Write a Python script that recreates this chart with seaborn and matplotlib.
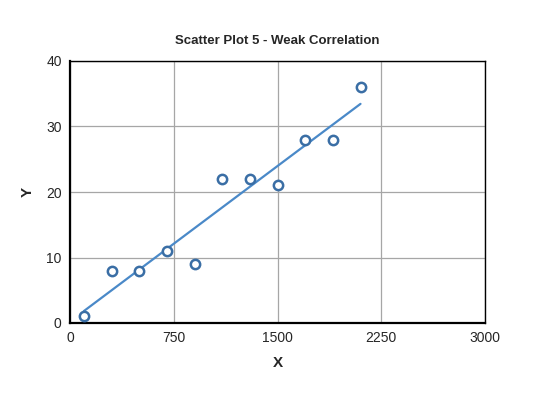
import numpy as np
import pandas as pd
import seaborn as sns
import matplotlib
matplotlib.use("Agg")
import matplotlib.pyplot as plt

x_vals = [100, 300, 500, 700, 900, 1100, 1300, 1500, 1700, 1900, 2100]
y_vals = [1, 8, 8, 11, 9, 22, 22, 21, 28, 28, 36]
x_ticks = [0, 750, 1500, 2250, 3000]
y_ticks = [0, 10, 20, 30, 40]

df = pd.DataFrame({"X": x_vals, "Y": y_vals})

sns.set_style("white")
plt.rcParams["font.family"] = ["Liberation Sans", "DejaVu Sans"]

fig = plt.figure(figsize=(5.36, 3.94), dpi=100)
ax = fig.add_axes([70 / 536, 1 - 323 / 394, 415 / 536, 262 / 394])

# linear trendline
slope, intercept = np.polyfit(df["X"], df["Y"], 1)
line_x = np.array([df["X"].min(), df["X"].max()])
sns.lineplot(x=line_x, y=slope * line_x + intercept, ax=ax, color="#4a89c8", lw=1.6, zorder=2)

sns.scatterplot(data=df, x="X", y="Y", ax=ax, s=45, marker="o", facecolor="white",
                edgecolor="#3a6ea5", linewidth=1.8, zorder=3)

ax.set_xlim(0, 3000)
ax.set_ylim(0, 40)
ax.set_xticks(x_ticks)
ax.set_yticks(y_ticks)
ax.grid(True, color="#a6a6a6", lw=0.9)
ax.set_axisbelow(True)
for side in ["top", "right"]:
    ax.spines[side].set_color("black")
    ax.spines[side].set_linewidth(1.0)
for side in ["left", "bottom"]:
    ax.spines[side].set_color("black")
    ax.spines[side].set_linewidth(1.6)
ax.tick_params(length=0, labelsize=10, pad=6)

ax.set_xlabel("X", fontsize=11, fontweight="bold", labelpad=8)
ax.set_ylabel("Y", fontsize=11, fontweight="bold", labelpad=8)
ax.set_title("Scatter Plot 5 - Weak Correlation", fontsize=9.5, fontweight="bold", pad=12)

fig.savefig("out.png", dpi=100)
